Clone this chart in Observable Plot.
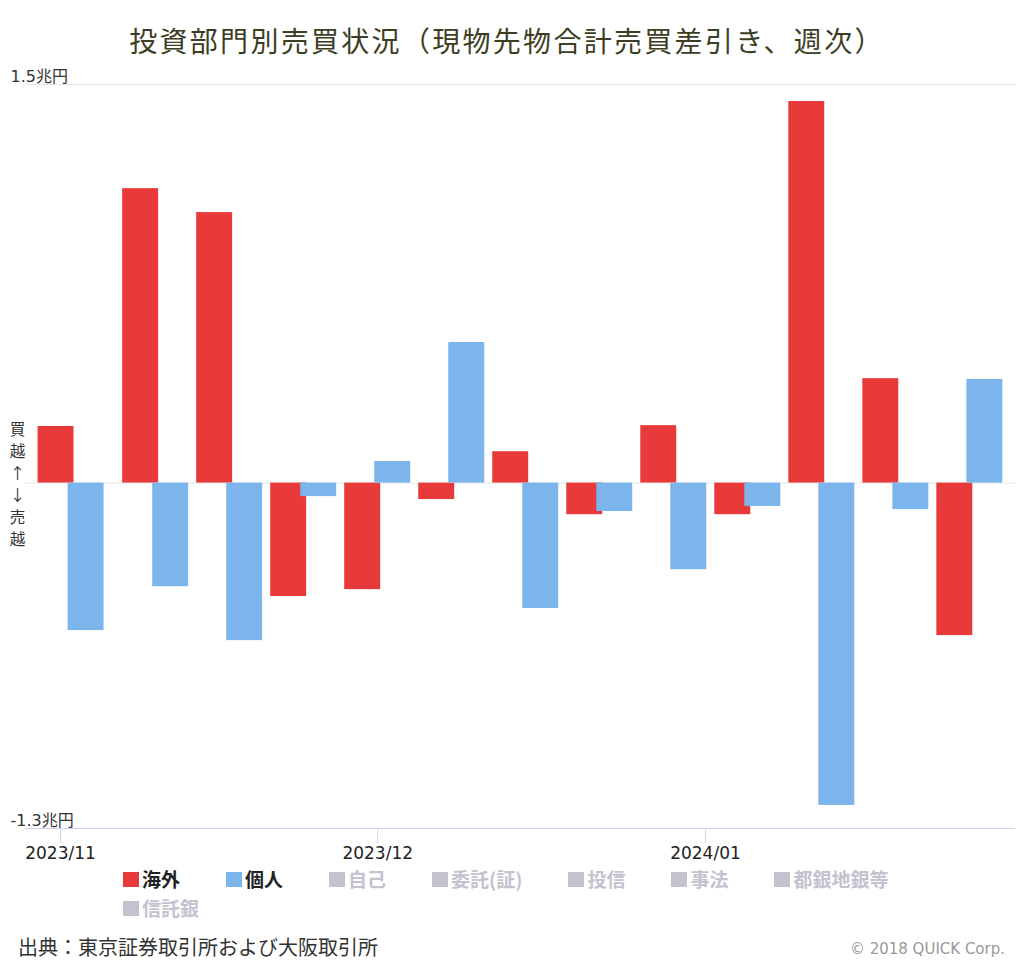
<!DOCTYPE html>
<html>
<head>
<meta charset="utf-8">
<script src="https://cdn.jsdelivr.net/npm/d3@7"></script>
<script src="https://cdn.jsdelivr.net/npm/@observablehq/plot@0.6"></script>
<style>
  html, body { margin: 0; padding: 0; background: #fff; }
  #page { position: relative; width: 1024px; height: 964px; overflow: hidden;
          font-family: "DejaVu Sans", "Noto Sans CJK JP", sans-serif; }
  #title { position: absolute; top: 18px; left: 0; width: 1014px; text-align: center;
           font-family: "Noto Sans CJK JP", sans-serif; font-size: 28px; letter-spacing: 2.3px;
           line-height: 44px; color: #3d3d24; white-space: nowrap; }
  #chart { position: absolute; top: 56px; left: 0; }
  #legend { position: absolute; top: 868px; left: 123px; width: 800px; display: flex; flex-wrap: wrap;
            column-gap: 46px; row-gap: 7px; font-family: "Noto Sans CJK JP", sans-serif;
            font-size: 19px; font-weight: bold; line-height: 22px; }
  .item { display: flex; align-items: center; white-space: nowrap; }
  .sw { width: 16px; height: 15px; margin-right: 3px; display: inline-block; }
  #source { position: absolute; top: 934px; left: 18px; font-family: "Noto Sans CJK JP", sans-serif;
            font-size: 20px; line-height: 26px; color: #333; }
  #credit { position: absolute; top: 938px; right: 19px; font-size: 15px; line-height: 22px; color: #999; }
</style>
</head>
<body>
<div id="page">
  <div id="title"></div>
  <div id="chart"></div>
  <div id="legend"></div>
  <div id="source"></div>
  <div id="credit"></div>
</div>
<script>
// ---- data ----
const weekDates = ["2023-11-02","2023-11-10","2023-11-17","2023-11-24","2023-12-01","2023-12-08",
                   "2023-12-15","2023-12-22","2023-12-29","2024-01-05","2024-01-12","2024-01-19","2024-01-26"];
const kaigai = [0.213, 1.108, 1.018, -0.427, -0.401, -0.062, 0.118, -0.119, 0.216, -0.119, 1.436, 0.393, -0.574];
const kojin  = [-0.555, -0.390, -0.593, -0.051, 0.081, 0.529, -0.472, -0.107, -0.326, -0.088, -1.213, -0.100, 0.390];
const seriesNames = ["海外", "個人"];
const legendNames = ["海外", "個人", "自己", "委託(証)", "投信", "事法", "都銀地銀等", "信託銀"];
const xTicks = ["2023-11-01", "2023-12-01", "2024-01-01"];
const yTicks = [1.5, -1.3];
const yTickLabels = ["1.5兆円", "-1.3兆円"];
const sideLabel = "買\n越\n↑\n↓\n売\n越";
const titleText = "投資部門別売買状況（現物先物合計売買差引き、週次）";
const sourceText = "出典：東京証券取引所および大阪取引所";
const creditText = "© 2018 QUICK Corp.";

// ---- styling / layout ----
const colors = {"海外": "#e83a3b", "個人": "#7cb5ec"};
const hiddenColor = "#c3c3cf";
const DAY = 864e5;
const xDomain = [new Date("2023-10-28T16:34Z"), new Date("2024-01-30T07:40Z")];
const offsets = {"海外": [-3.12 * DAY, 0.28 * DAY], "個人": [-0.28 * DAY, 3.12 * DAY]};

const rows = [];
weekDates.forEach((d, i) => {
  rows.push({date: new Date(d), series: seriesNames[0], value: kaigai[i]});
  rows.push({date: new Date(d), series: seriesNames[1], value: kojin[i]});
});

const chart = Plot.plot({
  width: 1024,
  height: 812,
  marginTop: 28,
  marginBottom: 40,
  marginLeft: 25,
  marginRight: 9,
  style: {fontFamily: "'DejaVu Sans', 'Noto Sans CJK JP', sans-serif", background: "transparent"},
  x: {type: "utc", domain: xDomain},
  y: {domain: [-1.3, 1.5]},
  marks: [
    Plot.ruleY([1.5, 0], {stroke: "#e6e6e6", strokeWidth: 1}),
    Plot.rect(rows, {
      x1: d => new Date(+d.date + offsets[d.series][0]),
      x2: d => new Date(+d.date + offsets[d.series][1]),
      y1: () => 0,
      y2: d => d.value,
      fill: d => colors[d.series]
    }),
    Plot.ruleY([-1.3], {stroke: "#ccd6eb", strokeWidth: 1}),
    Plot.axisX(xTicks.map(t => new Date(t)), {
      tickSize: 15, tickPadding: 3, fontSize: 17,
      tickFormat: d3.utcFormat("%Y/%m"), stroke: "#ccd6eb", fill: "#222"
    }),
    Plot.axisY([], {}),
    Plot.text(yTicks, {
      y: d => d, text: (d, i) => yTickLabels[i], frameAnchor: "left", dx: -15, dy: -8,
      textAnchor: "start", fontSize: 16, fill: "#333"
    }),
    Plot.text([0], {
      y: d => d, text: () => sideLabel, frameAnchor: "left", dx: -8,
      textAnchor: "middle", lineAnchor: "middle", lineHeight: 1.42, fontSize: 15.5,
      fontFamily: "'Noto Sans CJK JP', sans-serif", fill: "#333"
    })
  ]
});
document.getElementById("chart").appendChild(chart);

document.getElementById("title").textContent = titleText;
document.getElementById("source").textContent = sourceText;
document.getElementById("credit").textContent = creditText;

const legend = document.getElementById("legend");
legendNames.forEach(name => {
  const active = name in colors;
  const item = document.createElement("div");
  item.className = "item";
  const sw = document.createElement("span");
  sw.className = "sw";
  sw.style.background = active ? colors[name] : hiddenColor;
  const label = document.createElement("span");
  label.textContent = name;
  label.style.color = active ? "#222" : hiddenColor;
  item.appendChild(sw);
  item.appendChild(label);
  legend.appendChild(item);
});
</script>
</body>
</html>
